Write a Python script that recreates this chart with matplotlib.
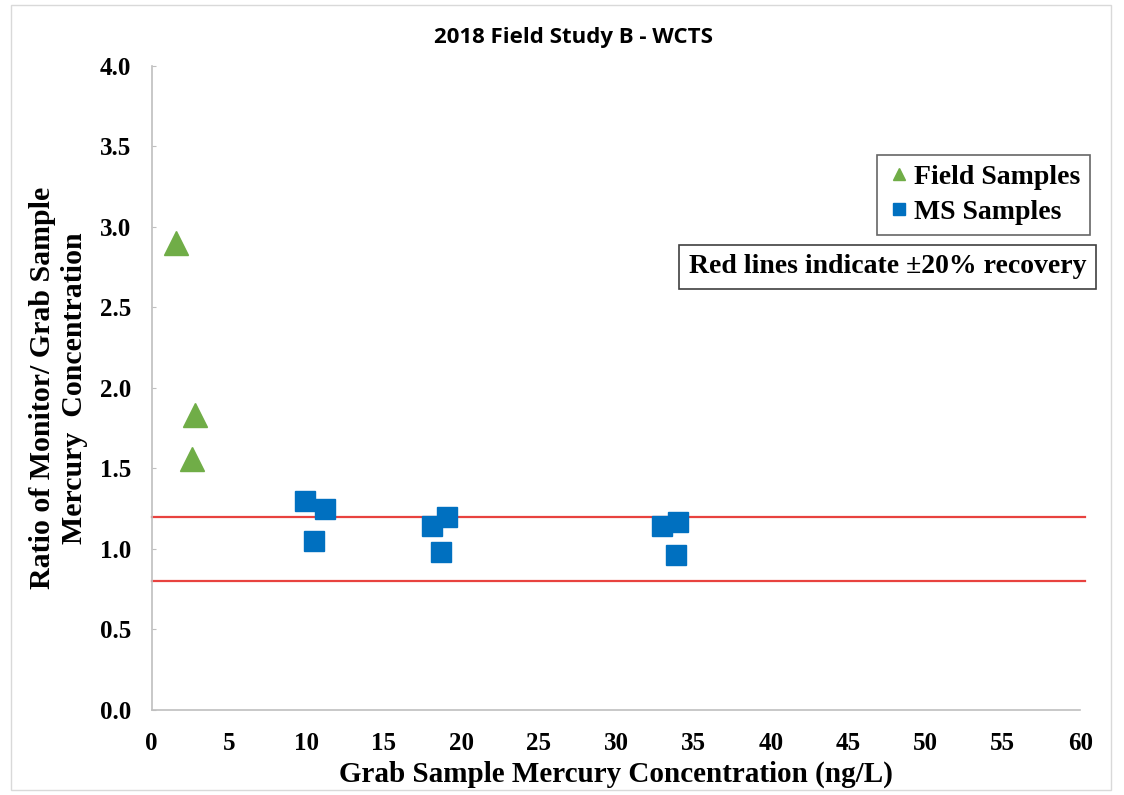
import matplotlib.pyplot as plt
from matplotlib.patches import Rectangle

# field samples (triangles)
field_x = [1.6, 2.8, 2.6]
field_y = [2.90, 1.83, 1.56]

# matrix spike samples (squares)
ms_x = [9.9, 11.2, 10.5, 18.1, 19.1, 18.7, 33.0, 34.0, 33.9]
ms_y = [1.30, 1.25, 1.05, 1.14, 1.20, 0.98, 1.14, 1.17, 0.96]

limits = [1.2, 0.8]
x_ticks = list(range(0, 61, 5))
y_ticks = [0.0, 0.5, 1.0, 1.5, 2.0, 2.5, 3.0, 3.5, 4.0]

serif = 'Liberation Serif'

fig = plt.figure(figsize=(11.24, 7.95), dpi=100)
fig.patches.append(Rectangle((0.01, 0.006), 0.978, 0.988, transform=fig.transFigure,
                             fill=False, edgecolor='#d9d9d9', linewidth=1))
ax = fig.add_axes([0.135, 0.107, 0.826, 0.81])

for v in limits:
    ax.plot([0, 60.3], [v, v], color='#e8423f', linewidth=1.6, zorder=1, clip_on=False)

ax.plot(field_x, field_y, linestyle='none', marker='^', markersize=17,
        color='#70ad47', label='Field Samples', zorder=3)
ax.plot(ms_x, ms_y, linestyle='none', marker='s', markersize=15,
        color='#0070c0', label='MS Samples', zorder=3)

ax.set_xlim(0, 60)
ax.set_ylim(0, 4)
ax.set_xticks(x_ticks)
ax.set_yticks(y_ticks)
ax.set_yticklabels(['%.1f' % v for v in y_ticks])
ax.tick_params(axis='both', length=3, direction='in', color='#bfbfbf', labelsize=18)
ax.tick_params(axis='x', length=0, pad=16)
ax.tick_params(axis='y', pad=15)
for lab in ax.get_xticklabels() + ax.get_yticklabels():
    lab.set_fontfamily(serif)
    lab.set_fontweight('bold')

for s in ['top', 'right']:
    ax.spines[s].set_visible(False)
for s in ['left', 'bottom']:
    ax.spines[s].set_color('#bfbfbf')
    ax.spines[s].set_linewidth(1.2)

ax.set_xlabel('Grab Sample Mercury Concentration (ng/L)', fontsize=21,
              fontfamily=serif, fontweight='bold', labelpad=4)
ax.set_ylabel('Ratio of Monitor/ Grab Sample\nMercury  Concentration', fontsize=21.5,
              fontfamily=serif, fontweight='bold', labelpad=8, linespacing=1.25)
fig.text(0.51, 0.953, '2018 Field Study B - WCTS', ha='center', va='center',
         fontsize=16, fontfamily='Open Sans', fontweight='bold')

leg = ax.legend(loc='upper right', bbox_to_anchor=(1.011, 0.862), frameon=True,
                fancybox=False, edgecolor='#404040', handletextpad=0.1,
                handlelength=0.9, markerscale=0.55, borderpad=0.35, labelspacing=0.35,
                borderaxespad=0.0,
                prop={'family': serif, 'weight': 'bold', 'size': 20})
leg.get_frame().set_linewidth(1.2)

ax.text(1.007, 0.688, 'Red lines indicate \u00b120% recovery', transform=ax.transAxes,
        ha='right', va='center', fontsize=20, fontfamily=serif, fontweight='bold',
        bbox=dict(boxstyle='square,pad=0.35', facecolor='white', edgecolor='#404040',
                  linewidth=1.2))

fig.savefig('out.png', dpi=100)
